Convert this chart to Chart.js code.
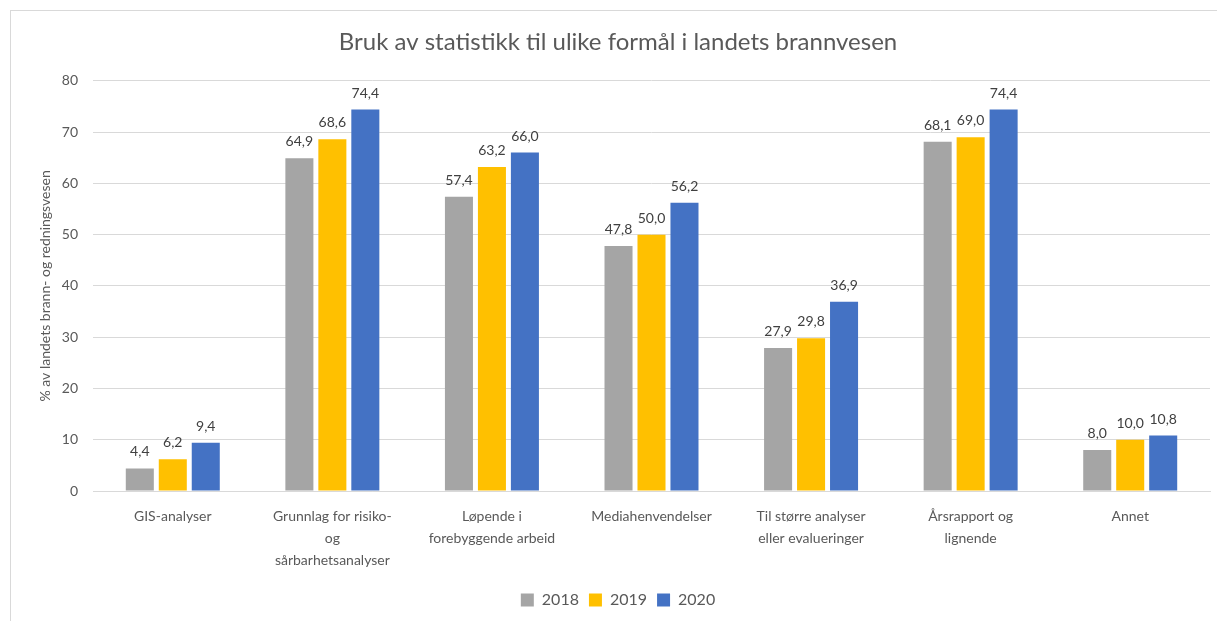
<!DOCTYPE html>
<html>
<head>
<meta charset="utf-8">
<script src="https://cdn.jsdelivr.net/npm/chart.js@4"></script>
<style>
  html, body { margin: 0; padding: 0; background: #fff; }
  #wrap { position: relative; width: 1217px; height: 621px; }
  #frame { position: absolute; left: 10px; top: 10px; right: 0; bottom: 0;
           border-left: 1px solid #d9d9d9; border-top: 1px solid #d9d9d9; pointer-events: none; }
</style>
</head>
<body>
<div id="wrap">
  <canvas id="chart" width="1217" height="621"></canvas>
  <div id="frame"></div>
</div>
<script>
// Categories (x axis labels, split in lines like the original)
const categories = [
    ['GIS-analyser'],
    ['Grunnlag for risiko-', 'og', 'sårbarhetsanalyser'],
    ['Løpende i', 'forebyggende arbeid'],
    ['Mediahenvendelser'],
    ['Til større analyser', 'eller evalueringer'],
    ['Årsrapport og', 'lignende'],
    ['Annet']
];

// Series values (%)
const values2018 = [4.4, 64.9, 57.4, 47.8, 27.9, 68.1, 8.0];
const values2019 = [6.2, 68.6, 63.2, 50.0, 29.8, 69.0, 10.0];
const values2020 = [9.4, 74.4, 66.0, 56.2, 36.9, 74.4, 10.8];

const seriesNames = ['2018', '2019', '2020'];
const yTicks = [0, 10, 20, 30, 40, 50, 60, 70, 80];

const font = 'Lato, "Open Sans", sans-serif';
const textColor = '#595959';

// Value labels on top of each bar (comma decimal)
const barLabels = {
    id: 'barLabels',
    afterDatasetsDraw(chart) {
        const ctx = chart.ctx;
        ctx.save();
        ctx.font = '14px ' + font;
        ctx.fillStyle = '#404040';
        ctx.textAlign = 'center';
        ctx.textBaseline = 'alphabetic';
        chart.data.datasets.forEach((ds, i) => {
            chart.getDatasetMeta(i).data.forEach((bar, j) => {
                const txt = ds.data[j].toFixed(1).replace('.', ',');
                ctx.fillText(txt, bar.x, bar.y - 12);
            });
        });
        ctx.restore();
    }
};

new Chart(document.getElementById('chart').getContext('2d'), {
    type: 'bar',
    data: {
        labels: categories,
        datasets: [
            { label: seriesNames[0], data: values2018, backgroundColor: '#A5A5A5' },
            { label: seriesNames[1], data: values2019, backgroundColor: '#FFC000' },
            { label: seriesNames[2], data: values2020, backgroundColor: '#4472C4' }
        ]
    },
    options: {
        responsive: false,
        animation: false,
        layout: { padding: { top: 28, right: 7, bottom: 3, left: 26 } },
        datasets: {
            bar: { categoryPercentage: 0.62, barPercentage: 0.85 }
        },
        plugins: {
            title: {
                display: true,
                text: 'Bruk av statistikk til ulike formål i landets brannvesen',
                color: textColor,
                font: { family: font, size: 24, weight: 'normal' },
                padding: { top: 0, bottom: 24 }
            },
            legend: {
                position: 'bottom',
                labels: {
                    color: textColor,
                    font: { family: font, size: 16 },
                    boxWidth: 13,
                    boxHeight: 13,
                    padding: 10
                }
            },
            tooltip: { enabled: false }
        },
        scales: {
            x: {
                grid: { display: false, drawTicks: false },
                border: { display: true, color: '#d9d9d9' },
                ticks: {
                    color: textColor,
                    font: { family: font, size: 14, lineHeight: 1.55 },
                    padding: 15,
                    maxRotation: 0,
                    autoSkip: false
                },
                afterFit: (s) => { s.height = 91; }
            },
            y: {
                min: 0,
                max: 80,
                afterBuildTicks: (s) => { s.ticks = yTicks.map(v => ({ value: v })); },
                grid: { color: '#d9d9d9', drawTicks: false },
                border: { display: false },
                ticks: {
                    color: textColor,
                    font: { family: font, size: 14 },
                    padding: 15
                },
                title: {
                    display: true,
                    text: '% av landets brann- og redningsvesen',
                    color: textColor,
                    font: { family: font, size: 14 },
                    padding: { top: 11, bottom: 0 }
                },
                afterFit: (s) => { s.width = 67; }
            }
        }
    },
    plugins: [barLabels]
});
</script>
</body>
</html>
